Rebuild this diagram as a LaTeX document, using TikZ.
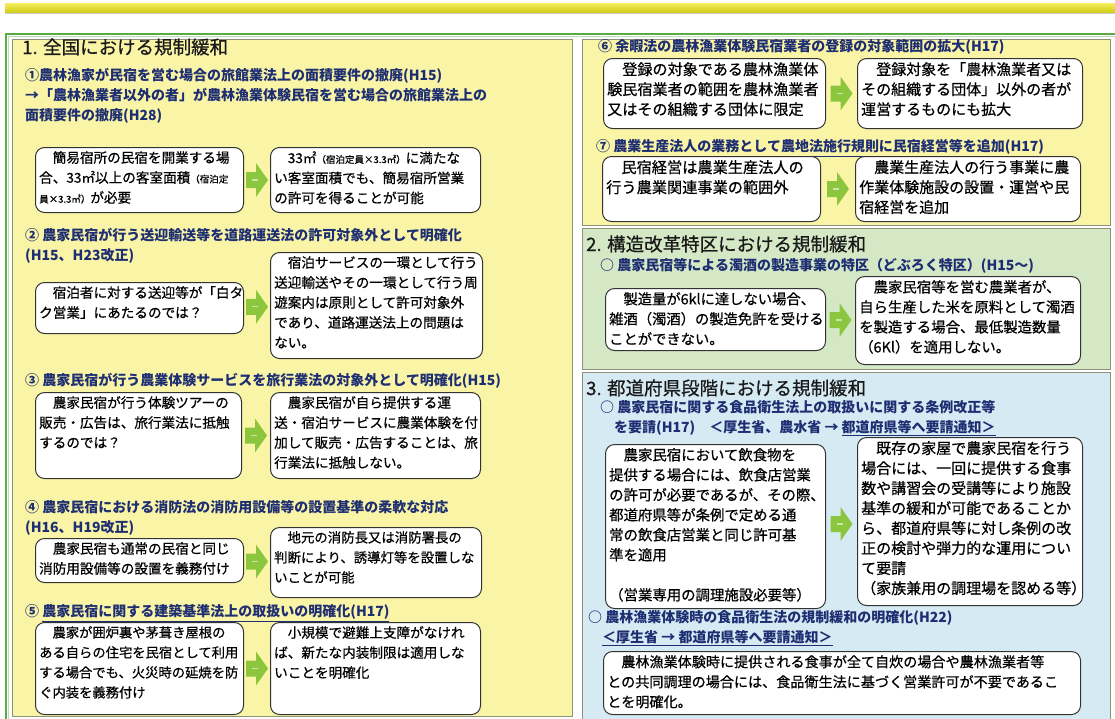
\documentclass[tikz,border=0pt]{standalone}
\usepackage{fontspec}
\setmainfont{Noto Sans CJK JP}
\newfontfamily\bxfont{Noto Sans CJK JP}[FakeBold=0.6]
\usetikzlibrary{calc}
\definecolor{panelyellow}{HTML}{FAF5A6}
\definecolor{panelgreen}{HTML}{D5E8C6}
\definecolor{panelblue}{HTML}{D6EAF3}
\definecolor{framegreen}{HTML}{5AAA46}
\definecolor{panelline}{HTML}{8E9278}
\definecolor{headnavy}{HTML}{1E2E72}
\definecolor{arrowgreen}{HTML}{8CC63E}
\definecolor{bandtop}{HTML}{F3EE5C}
\definecolor{bandbot}{HTML}{D4CD1C}
\newcommand{\fz}[1]{\bxfont\fontsize{#1}{20}\selectfont}
\newcommand{\sm}{\fontsize{9.5}{20}\selectfont}
\tikzset{
  panel/.style={draw=panelline,line width=0.9pt},
  tbox/.style={draw=black!80,line width=1pt,fill=white,rounded corners=9pt,anchor=north west,inner sep=0pt},
  btext/.style={anchor=north west,inner sep=0pt,align=left,text=black},
  head/.style={anchor=west,inner sep=0pt,align=left,text=headnavy,font=\bfseries\fontsize{14}{20}\selectfont},
  sectitle/.style={anchor=west,inner sep=0pt,text=black!90,font=\bxfont\fontsize{18.5}{22}\selectfont},
  garrow/.style={fill=arrowgreen},
  amark/.style={draw=arrowgreen!45!white,line width=1.1pt},
}
% #1 name, #2 x, #3 y, #4 width, #5 height, #6 font size, #7 text
\newcommand{\tb}[7]{%
  \node[tbox,minimum width=#4pt,minimum height=#5pt] (#1) at (#2,#3) {};
  \node[btext,font=\fz{#6}] (#1t) at ($(#1.north west)+(4,4)$) {#7};
}
% block arrow between two named boxes
\newcommand{\ga}[3]{%
  \coordinate (#3) at ($(#1.east)!0.5!(#2.west)$);
  \fill[garrow] ($(#3)+(-11,-8)$) -- ($(#3)+(-1,-8)$) -- ($(#3)+(-1,-17)$) -- ($(#3)+(11,0)$) -- ($(#3)+(-1,17)$) -- ($(#3)+(-1,8)$) -- ($(#3)+(-11,8)$) -- cycle;
  \draw[amark] ($(#3)+(-5,0)$) -- ($(#3)+(1,0)$);
}
\begin{document}
\begin{tikzpicture}[x=1pt,y=-1pt]
\useasboundingbox (0,0) rectangle (1115,718);
\fill[white] (0,0) rectangle (1115,718);
% top band
\fill[top color=bandtop,bottom color=bandbot] (5,3) rectangle (1115,12);
\draw[black!20,line width=1pt] (5,13.5) -- (1115,13.5);
% outer frame
\draw[framegreen,line width=2pt] (6,720) -- (6,34) -- (1116,34);
\draw[framegreen!40!white,line width=1pt] (8,720) -- (8,36.5) -- (1116,36.5);
% panels
\path[panel,fill=panelyellow] (12,39) rectangle (572,716);
\path[panel,fill=panelyellow] (582,39) rectangle (1110,225);
\path[panel,fill=panelgreen] (582,228) rectangle (1110,369);
\path[panel,fill=panelblue] (582,372) rectangle (1110,722);

% ---------- Section 1 ----------
\node[sectitle] (s1) at (22,47) {1. 全国における規制緩和};
\node[head,anchor=north west] (h1) at (25,68) {①農林漁家が民宿を営む場合の旅館業法上の面積要件の撤廃(H15)\\→「農林漁業者以外の者」が農林漁業体験民宿を営む場合の旅館業法上の\\面積要件の撤廃(H28)};
\tb{b1l}{35}{147}{208}{65}{13.6}{　簡易宿所の民宿を開業する場\\合、33㎡以上の客室面積{\sm（宿泊定}\\{\sm 員×3.3㎡）}が必要}
\tb{b1r}{270}{147}{210}{65}{13.6}{　33㎡{\sm（宿泊定員×3.3㎡）}に満たな\\い客室面積でも、簡易宿所営業\\の許可を得ることが可能}
\ga{b1l}{b1r}{a1}

\node[head,anchor=north west] (h2) at (25,228) {② 農家民宿が行う送迎輸送等を道路運送法の許可対象外として明確化\\(H15、H23改正)};
\tb{b2l}{35}{282}{208}{51}{13.6}{　宿泊者に対する送迎等が「白タ\\ク営業」にあたるのでは？}
\tb{b2r}{270}{252}{212}{106}{13.6}{　宿泊サービスの一環として行う\\送迎輸送やその一環として行う周\\遊案内は原則として許可対象外\\であり、道路運送法上の問題は\\ない。}
\ga{b2l}{b2r}{a2}

\node[head] (h3) at (25,381) {③ 農家民宿が行う農業体験サービスを旅行業法の対象外として明確化(H15)};
\tb{b3l}{35}{392}{206}{86}{13.6}{　農家民宿が行う体験ツアーの\\販売・広告は、旅行業法に抵触\\するのでは？}
\tb{b3r}{270}{392}{210}{86}{13.6}{　農家民宿が自ら提供する運\\送・宿泊サービスに農業体験を付\\加して販売・広告することは、旅\\行業法に抵触しない。}
\ga{b3l}{b3r}{a3}

\node[head,anchor=north west] (h4) at (25,500) {④ 農家民宿における消防法の消防用設備等の設置基準の柔軟な対応\\(H16、H19改正)};
\tb{b4l}{35}{538}{208}{44}{13.6}{　農家民宿も通常の民宿と同じ\\消防用設備等の設置を義務付け}
\tb{b4r}{270}{527}{211}{70}{13.4}{　地元の消防長又は消防署長の\\判断により、誘導灯等を設置しな\\いことが可能}
\ga{b4l}{b4r}{a4}

\node[head] (h5) at (25,613) {⑤ \underline{農家民宿に関する建築基準法上の取扱いの明確化(H17)}};
\tb{b5l}{35}{622}{208}{92}{13.3}{　農家が囲炉裏や茅葺き屋根の\\ある自らの住宅を民宿として利用\\する場合でも、火災時の延焼を防\\ぐ内装を義務付け}
\tb{b5r}{270}{622}{210}{92}{13.6}{　小規模で避難上支障がなけれ\\ば、新たな内装制限は適用しな\\いことを明確化}
\ga{b5l}{b5r}{a5}

% ---------- right top (continued section 1) ----------
\node[head] (h6) at (598,47) {⑥ 余暇法の農林漁業体験民宿業者の登録の対象範囲の拡大(H17)};
\tb{b6l}{603}{58}{222}{70}{15.1}{　登録の対象である農林漁業体\\験民宿業者の範囲を農林漁業者\\又はその組織する団体に限定}
\tb{b6r}{857}{58}{225}{70}{15}{　登録対象を「農林漁業者又は\\その組織する団体」以外の者が\\運営するものにも拡大}
\ga{b6l}{b6r}{a6}

\node[head] (h7) at (596,148) {⑦ \underline{農業生産法人の業務として農地法施行規則に民宿経営等を追加(H17)}};
\tb{b7l}{602}{156}{218}{65}{15.2}{　民宿経営は農業生産法人の\\行う農業関連事業の範囲外}
\tb{b7r}{855}{156}{225}{65}{15}{　農業生産法人の行う事業に農\\作業体験施設の設置・運営や民\\宿経営を追加}
\ga{b7l}{b7r}{a7}

% ---------- Section 2 ----------
\node[sectitle] (s2) at (586,244) {2. 構造改革特区における規制緩和};
\node[head] (h8) at (600,266) {○ 農家民宿等による濁酒の製造事業の特区（どぶろく特区）(H15～)};
\tb{b8l}{605}{288}{220}{62}{14.3}{　製造量が6klに達しない場合、\\雑酒（濁酒）の製造免許を受ける\\ことができない。}
\tb{b8r}{855}{276}{225}{88}{14.4}{　農家民宿等を営む農業者が、\\自ら生産した米を原料として濁酒\\を製造する場合、最低製造数量\\（6Kl）を適用しない。}
\ga{b8l}{b8r}{a8}

% ---------- Section 3 ----------
\node[sectitle] (s3) at (586,388) {3. 都道府県段階における規制緩和};
\node[head,anchor=north west] (h9) at (600,400) {○ 農家民宿に関する食品衛生法上の取扱いに関する条例改正等\\　を要請(H17)　＜厚生省、農水省 → \underline{都道府県等へ要請通知＞}};
\tb{b9l}{605}{444}{220}{164}{14.4}{　農家民宿において飲食物を\\提供する場合には、飲食店営業\\の許可が必要であるが、その際、\\都道府県等が条例で定める通\\常の飲食店営業と同じ許可基\\準を適用\\ \\（営業専用の調理施設必要等）}
\tb{b9r}{857}{437}{225}{168}{15}{　既存の家屋で農家民宿を行う\\場合には、一回に提供する食事\\数や講習会の受講等により施設\\基準の緩和が可能であることか\\ら、都道府県等に対し条例の改\\正の検討や弾力的な運用につい\\て要請\\（家族兼用の調理場を認める等）}
\ga{b9l}{b9r}{a9}

\node[head,anchor=north west] (h10) at (588,610) {○ 農林漁業体験時の食品衛生法の規制緩和の明確化(H22)\\　\underline{＜厚生省 → 都道府県等へ要請通知＞}};
\tb{b10}{603}{651}{477}{63}{14.1}{　農林漁業体験時に提供される食事が全て自炊の場合や農林漁業者等\\との共同調理の場合には、食品衛生法に基づく営業許可が不要であるこ\\とを明確化。}
\end{tikzpicture}
\end{document}
